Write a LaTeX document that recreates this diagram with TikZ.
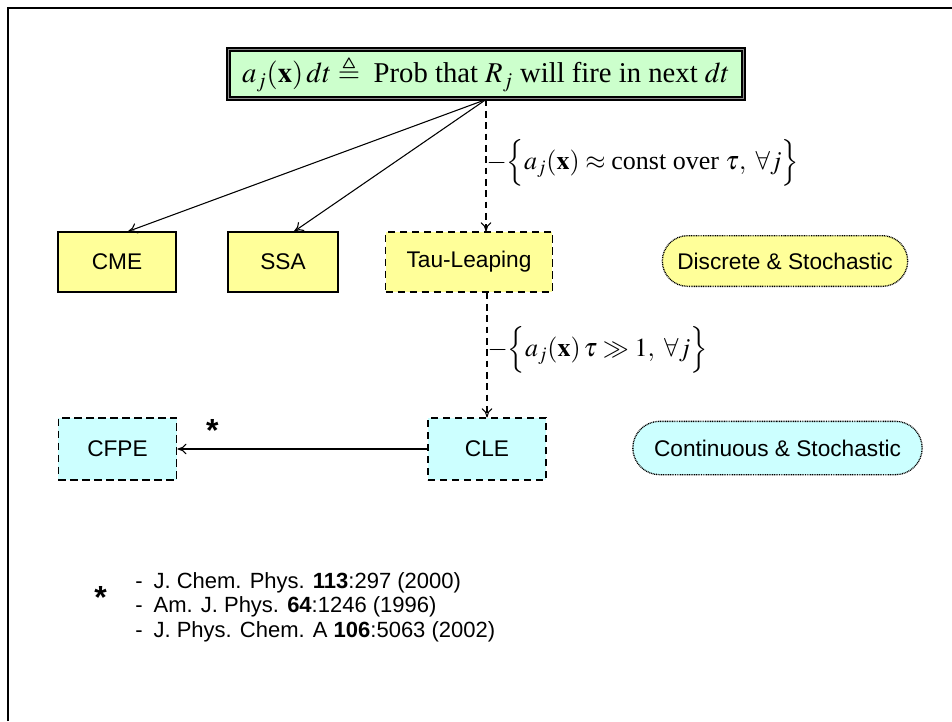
\documentclass[tikz,border=0pt]{standalone}
\usepackage{amsmath,amssymb}
\usepackage{mathptmx}
\usepackage[no-math]{fontspec}
\setmainfont{Liberation Serif}
\setsansfont{Liberation Sans}
\usepackage{tikz}
\usetikzlibrary{arrows.meta,positioning,shapes.misc}

\definecolor{greenfill}{HTML}{CCFFCC}
\definecolor{yellowfill}{HTML}{FFFF99}
\definecolor{cyanfill}{HTML}{CCFFFF}

\begin{document}
\begin{tikzpicture}[
    x=0.75pt, y=-0.75pt,
    titlebox/.style={rectangle, draw=black, line width=1.3pt, double=black!45,
        double distance=0.9pt, fill=greenfill, minimum width=386pt, minimum height=37pt,
        inner sep=0pt, font=\fontsize{21.5}{24}\selectfont},
    method/.style={rectangle, draw=black, line width=0.9pt, fill=yellowfill,
        minimum height=45pt, align=center, inner sep=0pt, font=\sffamily\fontsize{17}{19}\selectfont},
    approx/.style={method, dash pattern=on 5.5pt off 3.5pt},
    contbox/.style={approx, fill=cyanfill, minimum width=88.5pt, minimum height=46.5pt},
    regime/.style={rounded rectangle, draw=black, line width=1pt, dash pattern=on 0.7pt off 0.6pt,
        minimum height=38pt, inner sep=0pt, font=\sffamily\fontsize{17}{19}\selectfont},
    arrow/.style={-{To[length=2.4mm,width=2.8mm]}, line width=0.8pt},
    dasharrow/.style={arrow, dash pattern=on 5pt off 3.5pt},
    cond/.style={anchor=west, inner sep=0pt, font=\fontsize{19.5}{22}\selectfont},
    refs/.style={align=left, inner sep=0pt, font=\sffamily\fontsize{16.5}{18.4}\selectfont},
    starmark/.style={font=\sffamily\bfseries\fontsize{24}{24}\selectfont}
]
\useasboundingbox (0,0) rectangle (952,721);
% slide frame
\draw[line width=2.2pt] (8,721) -- (8,8) -- (952,8);

\node[titlebox] (prob) at (486,74)
    {$a_j(\mathbf{x})\,dt \triangleq{}$ Prob that $R_j$ will fire in next $dt$};

% exact and approximate methods
\node[method, minimum width=88.5pt] (cme) at (117,262) {CME};
\node[method, minimum width=82.5pt] (ssa) at (283,262) {SSA};
\node[approx, minimum width=125pt] (tau) at (469,262) {Tau-Leaping};
\node[regime, fill=yellowfill, minimum width=184pt] (discrete) at (785,261) {Discrete \& Stochastic};

\node[contbox] (cle) at (487,449) {CLE};
\node[contbox, minimum width=89pt] (cfpe) at (117.5,449) {CFPE};
\node[regime, fill=cyanfill, minimum width=217pt, minimum height=40pt] (continuous) at (777.5,448) {Continuous \& Stochastic};

\draw[arrow] (prob.south) -- (cme.70);
\draw[arrow] (prob.south) -- (ssa.70);
\draw[dasharrow] (prob.south) -- (prob.south |- tau.north)
    node[cond, pos=0.48] {$-\Bigl\{a_j(\mathbf{x}) \approx \text{const over } \tau,\ \forall j\Bigr\}$};
\draw[dasharrow] (tau.south -| cle.north) -- (cle.north)
    node[cond, pos=0.46] {$-\Bigl\{a_j(\mathbf{x})\,\tau \gg 1,\ \forall j\Bigr\}$};
\draw[arrow] (cle.west) -- (cfpe.east)
    node[starmark, above=2pt, pos=0.86] {*};

% references
\node[refs, anchor=north west] (papers) at (135,572)
    {-\enspace J. Chem. Phys. \textbf{113}:297 (2000)\\
     -\enspace Am. J. Phys. \textbf{64}:1246 (1996)\\
     -\enspace J. Phys. Chem. A \textbf{106}:5063 (2002)};
\node[starmark, inner sep=0pt, anchor=east] (star) at ([xshift=-21pt, yshift=-19pt]papers.north west) {*};
\end{tikzpicture}
\end{document}
